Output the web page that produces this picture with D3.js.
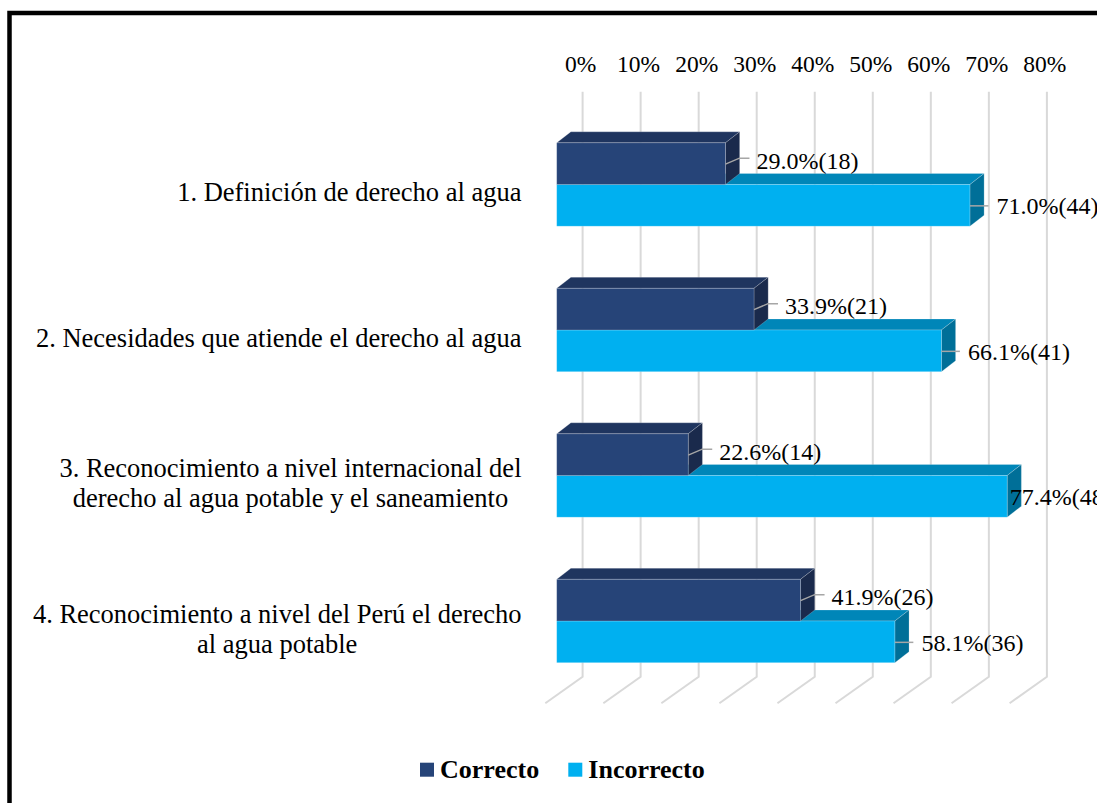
<!DOCTYPE html>
<html>
<head>
<meta charset="utf-8">
<script src="https://cdn.jsdelivr.net/npm/d3@7"></script>
<style>
  html, body { margin: 0; padding: 0; background: #ffffff; }
  svg { display: block; }
</style>
</head>
<body>
<svg id="chart" width="1097" height="803"></svg>
<script>
const categories = [
  ["1. Definición de derecho al agua"],
  ["2. Necesidades que atiende el derecho al agua"],
  ["3. Reconocimiento a nivel internacional del", "derecho al agua potable y el saneamiento"],
  ["4. Reconocimiento a nivel del Perú el derecho", "al agua potable"]
];
const correctoPct = [29.0, 33.9, 22.6, 41.9];
const correctoN = [18, 21, 14, 26];
const incorrectoPct = [71.0, 66.1, 77.4, 58.1];
const incorrectoN = [44, 41, 48, 36];
const tickValues = [0, 10, 20, 30, 40, 50, 60, 70, 80];
const seriesNames = ["Correcto", "Incorrecto"];

const W = 1097, H = 803;
const svg = d3.select("#chart");
const FONT = "'Liberation Serif', 'Times New Roman', serif";

// scales
const xFront = d3.scaleLinear().domain([0, 80]).range([556.7, 1022.3]);
const xWall = d3.scaleLinear().domain([0, 80]).range([582.6, 1046.9]);
const yC = d3.scalePoint().domain(d3.range(categories.length)).range([184.5, 621]);
const barH = 41.7;
const DX = 14.2, DY = -11;

const colors = {
  Correcto: { front: "#264478", top: "#1f355f", side: "#1a2a4c" },
  Incorrecto: { front: "#00b0f0", top: "#0086b8", side: "#006f98" }
};

// border
svg.append("rect").attr("x", 9.5).attr("y", 13).attr("width", 1200).attr("height", 1000)
  .attr("fill", "none").attr("stroke", "#000").attr("stroke-width", 4.5);

// gridlines: back wall + floor
const wallTop = 91.7, wallBot = 676.7;
const grid = svg.append("g").attr("stroke", "#d9d9d9").attr("stroke-width", 2).attr("fill", "none");
tickValues.forEach(t => {
  const x = xWall(t);
  grid.append("path").attr("d", `M${x},${wallTop}L${x},${wallBot}L${x - 37.3},${wallBot + 26.6}`);
});

// tick labels
svg.append("g").selectAll("text").data(tickValues).join("text")
  .attr("x", d => xWall(d) - 2).attr("y", 72.3)
  .attr("text-anchor", "middle")
  .attr("font-family", FONT).attr("font-size", 23.5).attr("fill", "#000")
  .text(d => d + "%");

// bars
function drawBar(g, x0, x1, yTop, c) {
  const h = barH;
  const st = "rgba(255,255,255,0.25)";
  // top face
  g.append("path").attr("d",
    `M${x0},${yTop}L${x0 + DX},${yTop + DY}L${x1 + DX},${yTop + DY}L${x1},${yTop}Z`)
    .attr("fill", c.top).attr("stroke", st).attr("stroke-width", 0.8);
  // side face
  g.append("path").attr("d",
    `M${x1},${yTop}L${x1 + DX},${yTop + DY}L${x1 + DX},${yTop + h + DY}L${x1},${yTop + h}Z`)
    .attr("fill", c.side).attr("stroke", st).attr("stroke-width", 0.8);
  // front face
  g.append("rect").attr("x", x0).attr("y", yTop).attr("width", x1 - x0).attr("height", h)
    .attr("fill", c.front).attr("stroke", st).attr("stroke-width", 0.8);
}

const bars = svg.append("g");
const labels = svg.append("g");
categories.forEach((cat, i) => {
  const gc = yC(i);
  // incorrecto (lower) first, then correcto (upper) on top
  drawBar(bars, xFront(0), xFront(incorrectoPct[i]), gc, colors.Incorrecto);
  drawBar(bars, xFront(0), xFront(correctoPct[i]), gc - barH, colors.Correcto);

  // correcto label
  {
    const xe = xFront(correctoPct[i]);
    const ym = gc - barH / 2;
    labels.append("path")
      .attr("d", `M${xe},${ym + 0.5}L${xe + 14},${ym - 5.5}L${xe + 24},${ym - 5.5}`)
      .attr("fill", "none").attr("stroke", "#a6a6a6").attr("stroke-width", 1.5);
    labels.append("text").attr("x", xe + 31).attr("y", ym + 5)
      .attr("font-family", FONT).attr("font-size", 24).attr("fill", "#000")
      .text(correctoPct[i].toFixed(1) + "%(" + correctoN[i] + ")");
  }
  // incorrecto label
  {
    const xe = xFront(incorrectoPct[i]);
    const ym = gc + barH / 2;
    const t = labels.append("text").attr("y", ym + 9)
      .attr("font-family", FONT).attr("font-size", 24).attr("fill", "#000")
      .text(incorrectoPct[i].toFixed(1) + "%(" + incorrectoN[i] + ")");
    const tw = t.node().getComputedTextLength();
    if (xe + 26.7 + tw > W + 12) {
      t.attr("x", xe + 2.5);
    } else {
      labels.insert("path", "text")
        .attr("d", `M${xe},${ym + 0.5}L${xe + 18.5},${ym + 0.5}`)
        .attr("fill", "none").attr("stroke", "#a6a6a6").attr("stroke-width", 1.5);
      t.attr("x", xe + 26.7);
    }
  }
});

// category labels
const catG = svg.append("g");
const rightEdge = 521.5, lineGap = 30;
categories.forEach((lines, i) => {
  const gc = yC(i);
  const tmp = lines.map(l => {
    const t = catG.append("text").attr("font-family", FONT).attr("font-size", 26.5)
      .attr("fill", "#000").text(l);
    return t;
  });
  const widths = tmp.map(t => t.node().getComputedTextLength());
  const maxW = d3.max(widths);
  const cx = rightEdge - maxW / 2;
  const n = lines.length;
  tmp.forEach((t, k) => {
    const base = gc + 16.5 + (k - (n - 1) / 2) * lineGap;
    t.attr("x", cx).attr("y", base).attr("text-anchor", "middle");
  });
});

// legend
const legend = svg.append("g");
const legItems = [
  { name: seriesNames[0], color: colors.Correcto.front, x: 420 },
  { name: seriesNames[1], color: colors.Incorrecto.front, x: 568.3 }
];
legItems.forEach(it => {
  legend.append("rect").attr("x", it.x).attr("y", 762.7).attr("width", 14).attr("height", 14)
    .attr("fill", it.color);
  legend.append("text").attr("x", it.x + 20).attr("y", 778.3)
    .attr("font-family", FONT).attr("font-size", 26).attr("font-weight", "bold").attr("fill", "#000")
    .text(it.name);
});
</script>
</body>
</html>
